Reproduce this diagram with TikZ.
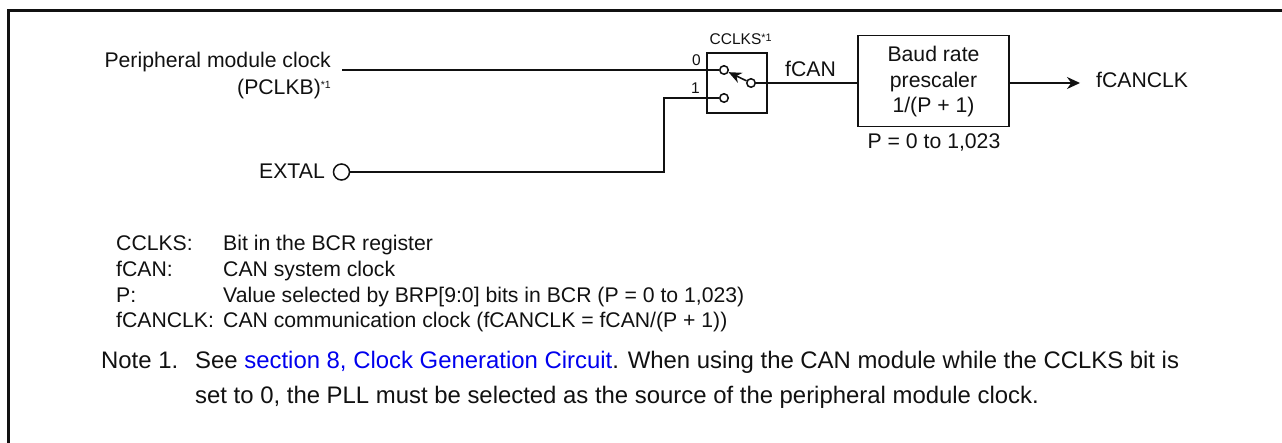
\documentclass[tikz,border=0pt]{standalone}
\usepackage{fontspec}
\setmainfont{Liberation Sans}
\usepackage{xcolor}
\usetikzlibrary{arrows.meta}
\definecolor{diagramink}{HTML}{111111}
\definecolor{linkblue}{HTML}{0000EE}
\newcommand{\starone}{\textsuperscript{\raisebox{-0.25ex}{*1}}}
\newcommand{\startiny}{\raisebox{0.62ex}{\fontsize{10.5}{12}\selectfont *1}}

\begin{document}
\begin{tikzpicture}[
  x=1pt,
  y=-1pt,
  every node/.style={font=\fontsize{21.2}{25}\selectfont, text=diagramink, inner sep=0pt},
  wire/.style={draw=diagramink, line width=1.6pt},
  terminal/.style={circle, draw=diagramink, fill=white, line width=1.5pt, minimum size=8.5pt},
  blockbox/.style={draw=diagramink, line width=1.4pt, fill=white},
  labelleft/.style={anchor=base west},
  labelright/.style={anchor=base east},
  labelmid/.style={anchor=base},
  smalltext/.style={font=\fontsize{15.5}{18}\selectfont},
  notetext/.style={font=\fontsize{23.9}{28}\selectfont}
]
  \useasboundingbox (0,0) rectangle (1282,443);

  % frame, open on the right and at the bottom
  \coordinate (frametr) at (1282,10.5);
  \coordinate (frametl) at (8.5,10.5);
  \coordinate (framebl) at (8.5,443);
  \draw[diagramink, line width=3pt, line join=miter] (frametr) -- (frametl) -- (framebl);

  % switch and prescaler
  \node[blockbox, minimum width=60pt, minimum height=60pt] (switchbox) at (737,83) {};
  \node[blockbox, minimum width=151pt, minimum height=90.5pt] (prescaler) at (933.5,81) {};
  \node[labelmid] (baudtext) at (933.5,62) {Baud rate};
  \node[labelmid] (prescalertext) at (933.5,87.5) {prescaler};
  \node[labelmid] (ratiotext) at (933.5,113) {1/(P + 1)};

  \node[terminal] (termzero) at (724,70) {};
  \node[terminal] (termone) at (724,98) {};
  \node[terminal] (termout) at (751,83) {};
  \node[terminal, minimum size=16pt] (extalpin) at (341.5,172) {};

  \coordinate (pclkstart) at (342,70);
  \coordinate (extalbend) at (664,172);
  \coordinate (onebend) at (664,98);
  \coordinate (arrowend) at (1080,83);

  % wires
  \draw[wire] (pclkstart) -- (termzero);
  \draw[wire] (extalpin) -- (extalbend) -- (onebend) -- (termone);
  \draw[wire] (termout.east) -- (termout.east -| prescaler.west);
  \draw[wire, -{Stealth[length=13pt, width=11pt]}] (termout) -- (termzero);
  \draw[wire, -{Stealth[length=13pt, width=12pt]}] (prescaler.east |- arrowend) -- (arrowend);

  % circuit labels
  \node[labelright] (pclklabel) at (331,68) {Peripheral module clock};
  \node[labelright] (pclkname) at (331,95) {(PCLKB)\startiny};
  \node[labelright] (extallabel) at (325,179) {EXTAL};
  \node[smalltext, labelleft] (cclkslabel) at (709.5,45) {CCLKS\starone};
  \node[smalltext, labelleft] (zerolabel) at (692,66) {0};
  \node[smalltext, labelleft] (onelabel) at (691,94) {1};
  \node[labelleft] (fcanlabel) at (785,77) {fCAN};
  \node[labelleft] (fcanclklabel) at (1096,88) {fCANCLK};
  \node[labelmid] (rangelabel) at (934,149) {P = 0 to 1,023};

  % legend
  \node[labelleft] (keycclks) at (116,251) {CCLKS:};
  \node[labelleft] (textcclks) at (223,251) {Bit in the BCR register};
  \node[labelleft] (keyfcan) at (116,277) {fCAN:};
  \node[labelleft] (textfcan) at (223,277) {CAN system clock};
  \node[labelleft] (keyp) at (116,303) {P:};
  \node[labelleft] (textp) at (223,303) {Value selected by BRP[9:0] bits in BCR (P = 0 to 1,023)};
  \node[labelleft] (keyfcanclk) at (116,328) {fCANCLK:};
  \node[labelleft] (textfcanclk) at (223,328) {CAN communication clock (fCANCLK = fCAN/(P + 1))};

  % note
  \node[notetext, labelleft] (notelabel) at (101,369) {Note 1.};
  \node[notetext, labelleft] (notefirst) at (195,369) {See \textcolor{linkblue}{section 8, Clock Generation Circuit}. When using the CAN module while the CCLKS bit is};
  \node[notetext, labelleft] (notesecond) at (195,403) {set to 0, the PLL must be selected as the source of the peripheral module clock.};
\end{tikzpicture}
\end{document}
